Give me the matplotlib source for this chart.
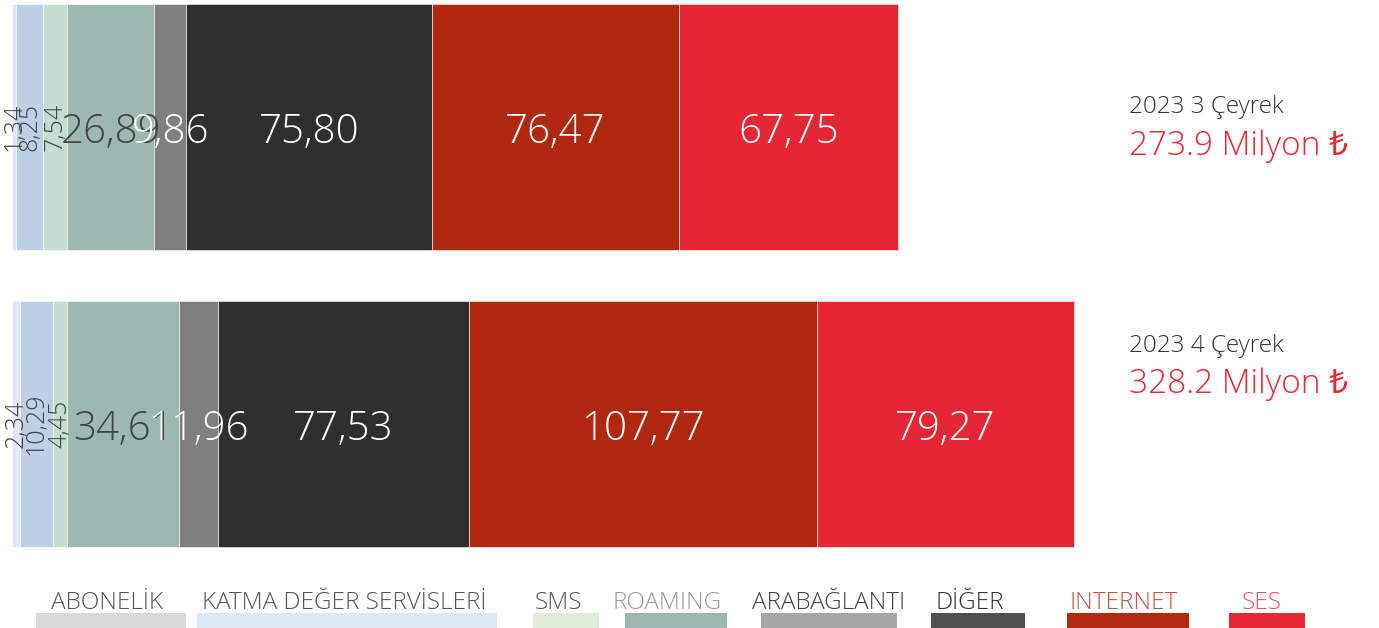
import numpy as np
import matplotlib
matplotlib.use('Agg')
import matplotlib.pyplot as plt
from matplotlib.patches import Rectangle
from matplotlib.transforms import blended_transform_factory

# data
periods = ['2023 3 Çeyrek', '2023 4 Çeyrek']
categories = ['ABONELİK', 'KATMA DEĞER SERVİSLERİ', 'SMS', 'ROAMING',
              'ARABAĞLANTI', 'DİĞER', 'INTERNET', 'SES']
values = [
    [1.34, 8.25, 7.54, 26.89, 9.86, 75.80, 76.47, 67.75],
    [2.34, 10.29, 4.45, 34.61, 11.96, 77.53, 107.77, 79.27],
]

# styles
bar_colors = ['#e1eaf4', '#bdd0e7', '#c5ddd0', '#9cb8b1', '#7f7f7f', '#2f2f2f', '#b0280f', '#e52634']
label_colors = ['#444444'] * 4 + ['white'] * 4
vertical = [True, True, True, False, False, False, False, False]
legend_colors = ['#d9d9d9', '#dde8f4', '#e0eed9', '#9db8b1', '#a6a6a6', '#505050', '#b12a12', '#e52736']
legend_text_colors = ['#555555', '#555555', '#555555', '#9a9a9a', '#444444', '#333333', '#c8513d', '#e8535d']
# legend layout in pixels (swatch left, swatch right, text centre)
legend_swatch = [(36, 186), (197, 497), (533, 599), (625, 727), (761, 897), (931, 1025), (1067, 1189), (1229, 1305)]
legend_text_x = [107, 344, 558, 667, 829, 970, 1124, 1262]
# right-hand text baselines in pixels from the top (title, total)
side_baselines = [(113, 155), (352, 393)]

FONT = ['Open Sans', 'Noto Sans', 'DejaVu Sans']
W, H = 1379, 628

fig = plt.figure(figsize=(W / 100, H / 100), dpi=100)
ax = fig.add_axes([0, 0, 1, 1])

scale = 3.235  # px per unit
x0 = 12
ax.set_xlim(-x0 / scale, (W - x0) / scale)
spacing, bar_px, c0 = 297, 246, 127
ax.set_ylim((H - c0) / spacing, -c0 / spacing)
ax.axis('off')

ypos = np.arange(len(periods))
vals = np.array(values)
lefts = np.hstack([np.zeros((len(periods), 1)), np.cumsum(vals, axis=1)[:, :-1]])

for j, cat in enumerate(categories):
    ax.barh(ypos, vals[:, j], left=lefts[:, j], height=bar_px / spacing,
            color=bar_colors[j], edgecolor='white', linewidth=0.4)
    for i in range(len(periods)):
        cx = lefts[i, j] + vals[i, j] / 2
        txt = f'{vals[i, j]:.2f}'.replace('.', ',')
        if vertical[j]:
            ax.text(cx, ypos[i], txt, rotation=90, ha='center', va='center',
                    fontsize=18, color=label_colors[j], family=FONT, fontweight=300)
        else:
            ax.text(cx, ypos[i] + 16 / spacing, txt, ha='center', va='baseline',
                    fontsize=29, color=label_colors[j], family=FONT, fontweight=300)

totals = vals.sum(axis=1)
side = blended_transform_factory(ax.transAxes, fig.transFigure)
for i, p in enumerate(periods):
    b1, b2 = side_baselines[i]
    ax.text(1129 / W, 1 - b1 / H, p, transform=side, ha='left', va='baseline',
            fontsize=17.5, color='#333333', family=FONT, fontweight=300)
    ax.text(1129 / W, 1 - b2 / H, f'{totals[i]:.1f} Milyon ₺', transform=side,
            ha='left', va='baseline', fontsize=24, color='#e52736', family=FONT, fontweight=300)

# legend
for k, cat in enumerate(categories):
    l, r = legend_swatch[k]
    fig.patches.append(Rectangle((l / W, 0), (r - l) / W, 15 / H, transform=fig.transFigure,
                                 facecolor=legend_colors[k], edgecolor='none'))
    fig.text(legend_text_x[k] / W, 1 - 609 / H, cat, ha='center', va='baseline',
             fontsize=17.5, color=legend_text_colors[k], family=FONT, fontweight=300)

fig.savefig('out.png', dpi=100)
